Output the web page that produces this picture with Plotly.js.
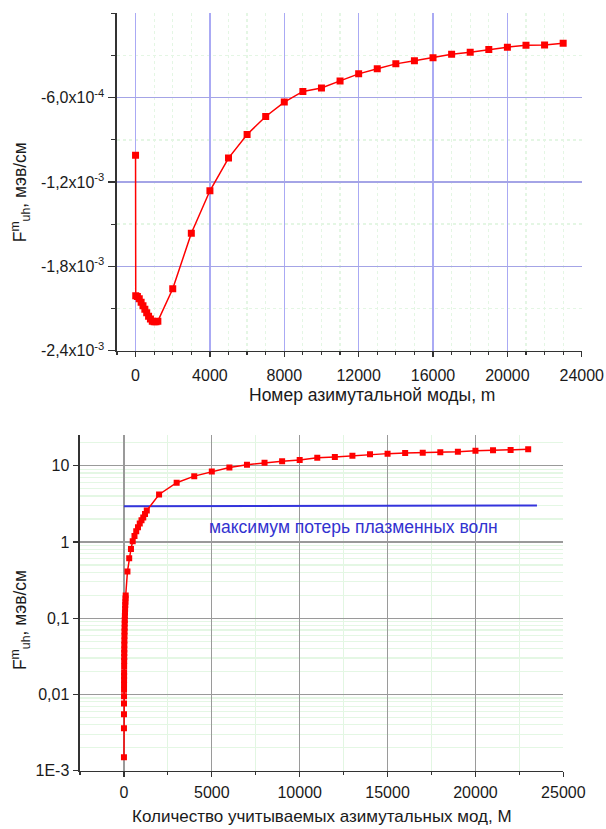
<!DOCTYPE html>
<html>
<head>
<meta charset="utf-8">
<script src="https://cdn.plot.ly/plotly-3.0.1.min.js"></script>
<style>html,body{margin:0;padding:0;background:#fff;}#chart{width:606px;height:829px;}</style>
</head>
<body>
<div id="chart"></div>
<script>
// ---- Top chart: F vs azimuthal mode number m ----
var modeTop = [0, 10, 100, 200, 300, 400, 500, 600, 700, 800, 900, 1000, 1100, 1200,
  2000, 3000, 4000, 5000, 6000, 7000, 8000, 9000, 10000, 11000, 12000, 13000, 14000,
  15000, 16000, 17000, 18000, 19000, 20000, 21000, 22000, 23000];
var forceTop = [-1.01e-3, -2.01e-3, -2.015e-3, -2.03e-3, -2.055e-3, -2.08e-3, -2.105e-3, -2.13e-3,
  -2.155e-3, -2.175e-3, -2.19e-3, -2.195e-3, -2.195e-3, -2.19e-3,
  -1.96e-3, -1.565e-3, -1.263e-3, -1.03e-3, -0.862e-3, -0.734e-3, -0.632e-3, -0.556e-3,
  -0.532e-3, -0.481e-3, -0.431e-3, -0.395e-3, -0.36e-3, -0.338e-3, -0.317e-3, -0.291e-3,
  -0.277e-3, -0.257e-3, -0.241e-3, -0.227e-3, -0.225e-3, -0.213e-3];
var topYTickVals = [-2.4e-3, -1.8e-3, -1.2e-3, -6e-4];
var topYTickText = ['-2,4x10<sup>-3</sup>', '-1,8x10<sup>-3</sup>', '-1,2x10<sup>-3</sup>', '-6,0x10<sup>-4</sup>'];

// ---- Bottom chart: F vs number of counted modes M (log) ----
var modeBot = [1, 2, 3, 4, 5, 6, 7, 8, 9, 10, 12, 14, 16, 18, 20, 23, 26, 30, 34, 38, 43, 48, 54,
  60, 67, 75, 83, 91, 100, 200, 300, 400, 500, 600, 700, 800, 900, 1000, 1100, 1200, 1300,
  2000, 3000, 4000, 5000, 6000, 7000, 8000, 9000, 10000, 11000, 12000, 13000, 14000, 15000,
  16000, 17000, 18000, 19000, 20000, 21000, 22000, 23000];
var forceBot = [0.0015, 0.0036, 0.0055, 0.0076, 0.0095, 0.0115, 0.0135, 0.0155, 0.0175, 0.0195,
  0.0235, 0.0275, 0.031, 0.035, 0.039, 0.045, 0.051, 0.059, 0.067, 0.075, 0.085, 0.095, 0.107,
  0.119, 0.133, 0.149, 0.165, 0.181, 0.199, 0.41, 0.61, 0.81, 1.02, 1.2, 1.38, 1.56, 1.74, 1.92,
  2.1, 2.33, 2.58,
  4.2, 5.98, 7.3, 8.4, 9.5, 10.3, 10.9, 11.4, 11.9, 12.7, 13.0, 13.5, 14.1, 14.4,
  14.7, 14.8, 15.0, 15.3, 15.7, 15.9, 16.1, 16.4];
var lossX = [0, 23500];
var lossY = [2.95, 3.0];
var lossLabel = 'максимум потерь плазменных волн';
var botYTickVals = [0.001, 0.01, 0.1, 1, 10];
var botYTickText = ['1E-3', '0,01', '0,1', '1', '10'];

var yTitle = 'F<sup>m</sup><sub>uh</sub>, мэв/см';
var xTitleTop = 'Номер азимутальной моды, m';
var xTitleBot = 'Количество учитываемых азимутальных мод, M';

var RED = '#ff0000';
var AX = '#333333';
var traces = [
  {x: modeTop, y: forceTop, xaxis: 'x', yaxis: 'y', type: 'scatter', mode: 'lines+markers',
   line: {color: RED, width: 1.5}, marker: {symbol: 'square', size: 7, color: RED}},
  {x: lossX, y: lossY, xaxis: 'x2', yaxis: 'y2', type: 'scatter', mode: 'lines',
   line: {color: '#3434dc', width: 2}},
  {x: modeBot, y: forceBot, xaxis: 'x2', yaxis: 'y2', type: 'scatter', mode: 'lines+markers',
   line: {color: RED, width: 1.5}, marker: {symbol: 'square', size: 6, color: RED}}
];

var FAM = 'Liberation Sans, Arial, sans-serif';
var TF = {family: FAM, size: 16, color: '#1a1a1a'};
var HF = {family: FAM, size: 17.5, color: '#1a1a1a'};
var layout = {
  width: 606, height: 829,
  margin: {l: 0, r: 0, t: 0, b: 0},
  paper_bgcolor: '#ffffff', plot_bgcolor: '#ffffff',
  showlegend: false,
  font: TF,
  xaxis: {domain: [0.193, 0.960], range: [-1000, 24000], anchor: 'y',
    tickmode: 'linear', tick0: 0, dtick: 4000, tickformat: 'd', ticks: 'outside', ticklen: 5, tickwidth: 1.2, tickcolor: AX,
    showline: true, linecolor: AX, linewidth: 1.5, zeroline: false,
    showgrid: true, gridcolor: '#aaaaf4', gridwidth: 1.2, ticklabelstandoff: 5,
    tickfont: TF,
    minor: {tick0: 0, dtick: 1000, ticks: 'outside', ticklen: 3, tickcolor: AX,
      showgrid: true, gridcolor: '#e4f6e4', griddash: 'dot'}},
  yaxis: {domain: [0.577, 0.984], range: [-2.4e-3, 0], anchor: 'x',
    tickmode: 'array', tickvals: topYTickVals, ticktext: topYTickText,
    ticks: 'outside', ticklen: 7, tickwidth: 1.2, tickcolor: AX,
    showline: true, linecolor: AX, linewidth: 1.5, zeroline: false,
    showgrid: true, gridcolor: '#a4a4e6', gridwidth: 1.5, ticklabelstandoff: 1,
    tickfont: TF,
    minor: {tickmode: 'linear', tick0: 0, dtick: 3e-4, ticks: 'outside', ticklen: 4, tickcolor: AX,
      showgrid: true, gridcolor: '#e4f6e4', griddash: 'dot'}},
  xaxis2: {domain: [0.132, 0.9296], range: [-2500, 25000], anchor: 'y2',
    tickmode: 'linear', tick0: 0, dtick: 5000, tickformat: 'd', ticks: 'outside', ticklen: 5, tickwidth: 1.2, tickcolor: AX,
    showline: true, linecolor: AX, linewidth: 1.5, zeroline: false,
    showgrid: true, gridcolor: '#9a9a9a', gridwidth: 1.2, ticklabelstandoff: 2,
    tickfont: TF,
    minor: {tick0: 0, dtick: 2500, ticks: 'outside', ticklen: 3, tickcolor: AX,
      showgrid: true, gridcolor: '#e2f6e2'}},
  yaxis2: {domain: [0.0703, 0.4753], type: 'log', range: [-3, 1.403], anchor: 'x2',
    tickmode: 'array', tickvals: botYTickVals, ticktext: botYTickText,
    ticks: 'outside', ticklen: 5, tickwidth: 1.2, tickcolor: AX,
    showline: true, linecolor: AX, linewidth: 1.5, zeroline: false,
    showgrid: true, gridcolor: '#9a9a9a', gridwidth: 1.2, ticklabelstandoff: 1,
    tickfont: TF,
    minor: {dtick: 'D1', ticks: '', showgrid: true, gridcolor: '#e4f7e4'}},
  annotations: [
    {text: xTitleTop, xref: 'paper', yref: 'paper', x: 0.6134, y: 0.5235, xanchor: 'center', yanchor: 'middle', showarrow: false, font: HF},
    {text: yTitle, xref: 'paper', yref: 'paper', x: 0.033, y: 0.768, xanchor: 'center', yanchor: 'middle', textangle: -90, showarrow: false, font: HF},
    {text: xTitleBot, xref: 'paper', yref: 'paper', x: 0.531, y: 0.0, xanchor: 'center', yanchor: 'bottom', yshift: 1, showarrow: false, font: {family: FAM, size: 17, color: '#1a1a1a'}},
    {text: yTitle, xref: 'paper', yref: 'paper', x: 0.033, y: 0.252, xanchor: 'center', yanchor: 'middle', textangle: -90, showarrow: false, font: HF},
    {text: lossLabel, xref: 'x2', yref: 'y2', x: 4700, y: 0.2, xanchor: 'left', yanchor: 'middle', showarrow: false,
     font: {family: FAM, size: 17.5, color: '#3232d0'}}
  ]
};
Plotly.newPlot('chart', traces, layout, {staticPlot: true, displayModeBar: false});
</script>
</body>
</html>
